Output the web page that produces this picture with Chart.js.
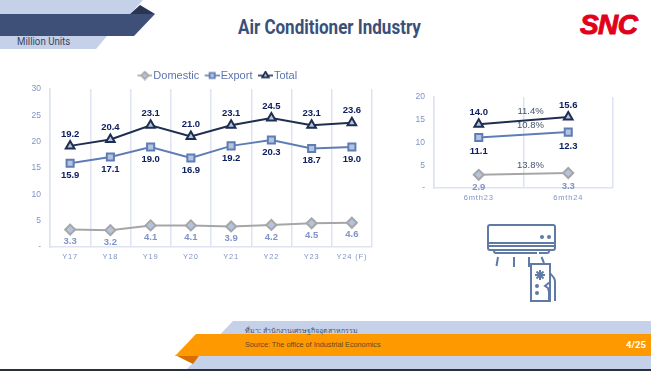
<!DOCTYPE html>
<html>
<head>
<meta charset="utf-8">
<script src="https://cdn.jsdelivr.net/npm/chart.js@4"></script>
<style>
  html, body { margin: 0; padding: 0; background: #fff; }
  body { width: 651px; height: 371px; position: relative; overflow: hidden; font-family: "Liberation Sans", sans-serif; }
  .abs { position: absolute; }
  #deco { left: 0; top: 0; }
  #title { left: 238px; top: 16px; font: bold 19.8px Roboto, sans-serif; color: #3b5078; white-space: nowrap; transform: scaleX(0.86); transform-origin: left top; }
  #unit { left: 17px; top: 35px; font: 11px Roboto, sans-serif; color: #3a4560; white-space: nowrap; transform: scaleX(0.88); transform-origin: left top; }
  #logo { left: 580px; top: 9px; font: italic bold 28px "Liberation Sans", sans-serif; color: #e2001a; -webkit-text-stroke: 1px #e2001a; letter-spacing: -0.6px; }
  #thai { left: 245px; top: 325px; font: 7px "Noto Sans", "DejaVu Sans", sans-serif; color: #44506a; white-space: nowrap; }
  #source { left: 245px; top: 340px; font: 7.25px "Liberation Sans", sans-serif; color: #5a4a20; white-space: nowrap; }
  #page { left: 626px; top: 339px; font: bold 9.5px Roboto, sans-serif; color: #fff; white-space: nowrap; }
  #wrapLeft { left: 0; top: 67px; width: 430px; height: 204px; }
  #wrapRight { left: 400px; top: 83px; width: 240px; height: 126px; }
</style>
</head>
<body>
<svg id="deco" class="abs" width="651" height="371" viewBox="0 0 651 371">
  <polygon points="0,0 143,0 130,14 0,14" fill="#c5d1e8"/>
  <polygon points="130,14 140,5 155,14" fill="#2a3554"/>
  <polygon points="0,14 155,14 134,36 0,36" fill="#3e5078"/>
  <polygon points="0,36 107,36 96,49 0,49" fill="#c5d1e8"/>
  <polygon points="233,321 651,321 651,369 187,369" fill="#c5d1e8"/>
  <polygon points="175,355 199,356 193,364" fill="#d96f00"/>
  <polygon points="196,334 651,334 651,356 175,356" fill="#ff9900"/>
  <rect x="0" y="369" width="651" height="2" fill="#2b2f3a"/>
  <g fill="none" stroke="#5f7aa5" stroke-width="2">
    <rect x="488" y="225" width="67" height="25" rx="2"/>
    <path d="M488 243H555M488 246H555M494 249v2q0 2 2 2h41M549 249v2q0 2 -2 2h-8"/>
    <path d="M498 257l-1.5 9M514 257v10M529 257v10M541.500 257l2.500 6"/>
    <rect x="531" y="264" width="19" height="37"/>
    <path d="M540 270v10M535 275h10M536.500 271.500l7 7M543.500 271.500l-7 7"/>
    <path d="M550 273l4 5q1 2 1 4v19M550 282l-5 4 3 2 1 4v9"/>
  </g>
  <circle cx="542" cy="237" r="2" fill="#5f7aa5"/>
  <circle cx="549" cy="237" r="2" fill="#5f7aa5"/>
  <circle cx="537" cy="286" r="2" fill="#5f7aa5"/>
  <circle cx="537" cy="293" r="2" fill="#5f7aa5"/>
</svg>
<div id="title" class="abs">Air Conditioner Industry</div>
<div id="unit" class="abs">Million Units</div>
<div id="logo" class="abs">SNC</div>
<div id="thai" class="abs">ที่มา: สำนักงานเศรษฐกิจอุตสาหกรรม</div>
<div id="source" class="abs">Source: The office of Industrial Economics</div>
<div id="page" class="abs">4/25</div>
<div id="wrapLeft" class="abs"><canvas id="yearly"></canvas></div>
<div id="wrapRight" class="abs"><canvas id="halfYear"></canvas></div>
<script>
const years = ['Y17', 'Y18', 'Y19', 'Y20', 'Y21', 'Y22', 'Y23', 'Y24 (F)'];
const domesticYear = [3.3, 3.2, 4.1, 4.1, 3.9, 4.2, 4.5, 4.6];
const exportYear = [15.9, 17.1, 19.0, 16.9, 19.2, 20.3, 18.7, 19.0];
const totalYear = [19.2, 20.4, 23.1, 21.0, 23.1, 24.5, 23.1, 23.6];

const periods = ['6mth23', '6mth24'];
const domesticHalf = [2.9, 3.3];
const exportHalf = [11.1, 12.3];
const totalHalf = [14.0, 15.6];
const growthHalf = ['13.8%', '10.8%', '11.4%'];

const gridColor = '#dde3f0';
const tickColor = '#7f93c4';
const styles = [
    { label: 'Domestic', line: '#a6a6a6', point: 'rectRot', radius: 5, labelColor: '#7f93c4', labelDy: 12 },
    { label: 'Export', line: '#5f7db5', point: 'rect', radius: 5, labelColor: '#0f2060', labelDy: 12 },
    { label: 'Total', line: '#1f2d50', point: 'triangle', radius: 5, labelColor: '#0f2060', labelDy: -12 }
];

// small line + marker picture for the legend, mark sits on the right of the canvas
function legendMark(style) {
    const c = document.createElement('canvas');
    c.width = 24;
    c.height = 10;
    const g = c.getContext('2d');
    g.strokeStyle = style.line;
    g.lineWidth = 1.6;
    g.beginPath();
    g.moveTo(9, 5);
    g.lineTo(24, 5);
    g.stroke();
    g.beginPath();
    Chart.helpers.drawPoint(g, { pointStyle: style.point, radius: 3.6, borderWidth: 1.6 }, 16.5, 5);
    g.fillStyle = '#b4c4df';
    g.fill();
    g.stroke();
    return c;
}

const valueLabels = {
    id: 'valueLabels',
    afterLayout(chart) {
        // the legend sits a bit right of the plot centre and close to the plot
        if (chart.legend && chart.legend.options.display) {
            chart.legend.left += 4;
            chart.legend.right += 4;
            chart.legend.top += 2;
            chart.legend.bottom += 2;
        }
    },
    afterDatasetsDraw(chart, args, opts) {
        const ctx = chart.ctx;
        ctx.save();
        ctx.font = 'bold 9.5px "Liberation Sans"';
        ctx.textAlign = 'center';
        ctx.textBaseline = 'middle';
        chart.data.datasets.forEach((ds, i) => {
            const meta = chart.getDatasetMeta(i);
            ctx.fillStyle = styles[i].labelColor;
            meta.data.forEach((pt, j) => {
                ctx.fillText(ds.data[j].toFixed(1), pt.x, pt.y + styles[i].labelDy + (opts.extraDy ? opts.extraDy[i] : 0));
            });
            if (opts.growth) {
                ctx.save();
                ctx.font = '9.5px "Liberation Sans"';
                ctx.fillStyle = '#44546a';
                ctx.fillText(opts.growth[i], (meta.data[0].x + meta.data[1].x) / 2 + 7, (meta.data[0].y + meta.data[1].y) / 2 - 9);
                ctx.restore();
            }
        });
        ctx.restore();
        // x ticks are drawn after this hook (z = 1) and are spaced out a little
        ctx.letterSpacing = '0.8px';
    },
    afterDraw(chart) {
        chart.ctx.letterSpacing = '0px';
    }
};

function lineChart(id, labels, series, cfg) {
    const datasets = series.map((data, i) => ({
        label: styles[i].label,
        data: data,
        borderColor: styles[i].line,
        borderWidth: 2,
        tension: 0,
        pointStyle: styles[i].point,
        pointRadius: styles[i].radius,
        pointBorderWidth: 2,
        pointBorderColor: styles[i].line,
        pointBackgroundColor: '#b4c4df'
    }));

    return new Chart(document.getElementById(id), {
        type: 'line',
        plugins: [valueLabels],
        data: { labels: labels, datasets: datasets },
        options: {
            responsive: true,
            maintainAspectRatio: false,
            animation: false,
            layout: { padding: cfg.padding },
            plugins: {
                tooltip: { enabled: false },
                valueLabels: { growth: cfg.growth, extraDy: cfg.extraDy },
                legend: {
                    display: cfg.legend,
                    position: 'top',
                    fullSize: false,
                    labels: {
                        usePointStyle: true,
                        pointStyleWidth: 15,
                        padding: 1,
                        color: '#5b74ad',
                        font: { size: 11, family: '"Liberation Sans"' },
                        generateLabels(chart) {
                            const items = Chart.defaults.plugins.legend.labels.generateLabels(chart);
                            items.forEach((it, i) => { it.pointStyle = legendMark(styles[i]); });
                            return items;
                        }
                    }
                }
            },
            scales: {
                x: {
                    offset: true,
                    afterFit(scale) { scale.height = cfg.xHeight; },
                    grid: {
                        offset: true,
                        drawTicks: false,
                        color: ctx => (cfg.hideLastGrid && ctx.index === labels.length) ? 'rgba(0,0,0,0)' : gridColor,
                        lineWidth: 1.5
                    },
                    border: { color: gridColor, width: 1.5 },
                    ticks: { z: 1, color: tickColor, padding: 5, maxRotation: 0, autoSkip: false, font: { size: 7.5, family: '"Liberation Sans"' } }
                },
                y: {
                    min: 0,
                    max: cfg.max,
                    afterFit(scale) { scale.width = cfg.yWidth; },
                    grid: { display: false, drawTicks: false },
                    border: { color: gridColor, width: 1.5 },
                    ticks: {
                        stepSize: 5,
                        color: tickColor,
                        padding: 9,
                        font: { size: 8.5, family: '"Liberation Sans"' },
                        callback: v => v === 0 ? '-' : v
                    }
                }
            }
        }
    });
}

lineChart('yearly', years, [domesticYear, exportYear, totalYear], {
    max: 30,
    legend: true,
    yWidth: 50,
    xHeight: 24,
    padding: { right: 58 }
});

lineChart('halfYear', periods, [domesticHalf, exportHalf, totalHalf], {
    max: 20,
    legend: false,
    yWidth: 34,
    xHeight: 21,
    hideLastGrid: true,
    growth: growthHalf,
    extraDy: [1, 2, 0],
    padding: { right: 27 }
});
</script>
</body>
</html>
